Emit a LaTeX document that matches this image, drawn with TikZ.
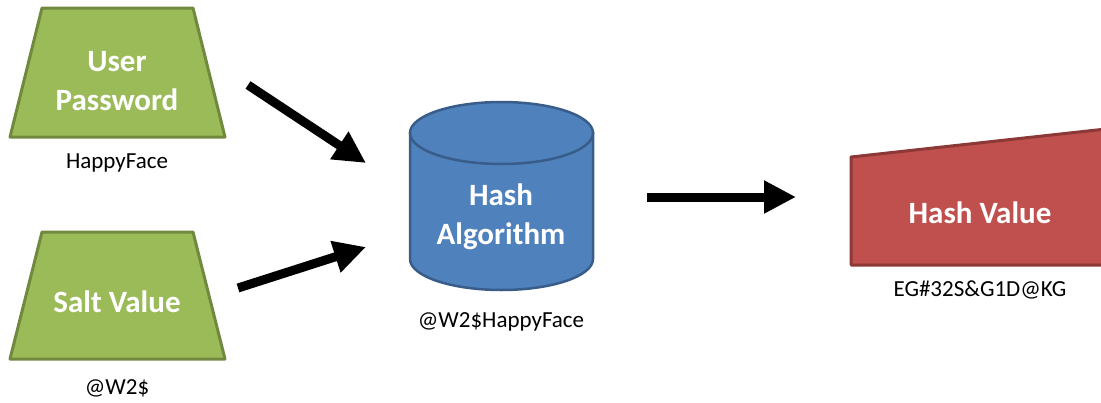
\documentclass[tikz,border=0pt]{standalone}
\usepackage{fontspec}
\setmainfont{Carlito}
\usetikzlibrary{arrows.meta}
\definecolor{gfill}{HTML}{9BBB59}
\definecolor{gline}{HTML}{71893F}
\definecolor{bfill}{HTML}{4F81BD}
\definecolor{bline}{HTML}{385D8A}
\definecolor{rfill}{HTML}{C0504D}
\definecolor{rline}{HTML}{8C3836}
\tikzset{
  shapetxt/.style={text=white,font=\fontsize{31}{39}\selectfont\bfseries,align=center,inner sep=0pt},
  lbl/.style={text=black,font=\fontsize{23}{27}\selectfont,inner sep=0pt},
  bigarrow/.style={line width=9pt,-{Triangle[length=32pt,width=31pt]}},
  greenshape/.style={fill=gfill,draw=gline,line width=3pt,line join=round},
  blueshape/.style={fill=bfill,draw=bline,line width=2.5pt},
  redshape/.style={fill=rfill,draw=rline,line width=3pt,line join=round}
}
\begin{document}
\begin{tikzpicture}[x=1pt,y=-1pt]
\useasboundingbox (0,0) rectangle (1101,402);
\begin{scope}
\clip (0,0) rectangle (1101,402);
% green trapezoids
\draw[greenshape] (42,8) -- (193,8) -- (225,137) -- (10,137) -- cycle;
\draw[greenshape] (42,232) -- (193,232) -- (225,359) -- (10,359) -- cycle;
% cylinder
\filldraw[blueshape] (410,133) -- (410,259) arc[start angle=180,end angle=0,x radius=91.5,y radius=31] -- (593,133) -- cycle;
\filldraw[blueshape] (501.5,133) ellipse[x radius=91.5,y radius=31];
% red shape
\draw[redshape] (851,157) -- (1115,128) -- (1115,265) -- (851,265) -- cycle;
\end{scope}
\node[shapetxt] (pw) at (117,81) {User\\Password};
\node[lbl] (pwv) at (117,163) {HappyFace};
\node[shapetxt] (salt) at (117,302) {Salt Value};
\node[lbl] (saltv) at (117,388) {@W2\$};
\node[shapetxt] (hash) at (501,217) {Hash\\Algorithm};
\node[lbl] (hashv) at (501,322) {@W2\$HappyFace};
\node[shapetxt] (hv) at (980,213) {Hash Value};
\node[lbl] (hvv) at (980,290) {EG\#32S\&G1D@KG};
\coordinate (a1s) at (248,85);
\coordinate (a1e) at (366,163);
\coordinate (a2s) at (238,288);
\coordinate (a2e) at (366,247);
\coordinate (a3s) at (647,197);
\coordinate (a3e) at (796,197);
\draw[bigarrow] (a1s) -- (a1e);
\draw[bigarrow] (a2s) -- (a2e);
\draw[bigarrow] (a3s) -- (a3e);
\end{tikzpicture}
\end{document}
